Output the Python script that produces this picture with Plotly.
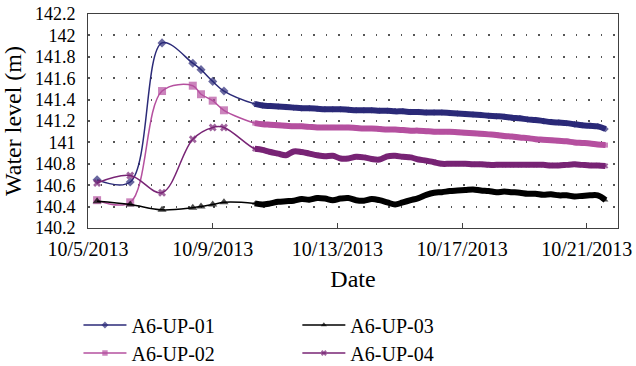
import pandas as pd
import plotly.graph_objects as go

# ---- data ----
early_times = ["2013-10-05 07:00", "2013-10-06 08:30", "2013-10-07 09:00",
               "2013-10-08 08:40", "2013-10-08 15:00", "2013-10-09 00:00",
               "2013-10-09 08:40"]
early_times_04 = ["2013-10-05 07:00", "2013-10-06 08:30", "2013-10-07 09:00",
                  "2013-10-08 08:40", "2013-10-09 00:00", "2013-10-09 08:40"]

early_01 = [140.65, 140.63, 141.93, 141.74, 141.68, 141.57, 141.48]
early_02 = [140.46, 140.44, 141.48, 141.53, 141.45, 141.39, 141.30]
early_03 = [140.45, 140.42, 140.37, 140.39, 140.40, 140.42, 140.44]
early_04 = [140.62, 140.69, 140.53, 141.03, 141.14, 141.14]

# regular logger readings every 6 hours
dense_times = pd.date_range("2013-10-10 08:24", periods=46, freq="6h")

dense_01 = [141.36, 141.345, 141.34, 141.335, 141.33, 141.325, 141.32, 141.32,
            141.315, 141.31, 141.31, 141.31, 141.305, 141.30, 141.30, 141.30,
            141.295, 141.295, 141.29, 141.29, 141.285, 141.285, 141.28, 141.28,
            141.28, 141.275, 141.27, 141.265, 141.26, 141.255, 141.25, 141.245,
            141.24, 141.23, 141.225, 141.215, 141.21, 141.20, 141.19, 141.185,
            141.18, 141.17, 141.16, 141.155, 141.15, 141.125]
dense_02 = [141.18, 141.17, 141.165, 141.16, 141.155, 141.15, 141.15, 141.145,
            141.14, 141.14, 141.14, 141.14, 141.14, 141.135, 141.13, 141.13,
            141.125, 141.12, 141.12, 141.115, 141.11, 141.11, 141.105, 141.10,
            141.10, 141.10, 141.095, 141.09, 141.085, 141.08, 141.075, 141.07,
            141.06, 141.055, 141.045, 141.04, 141.03, 141.025, 141.02, 141.015,
            141.01, 141.00, 140.995, 140.99, 140.98, 140.975]
dense_03 = [140.43, 140.42, 140.43, 140.445, 140.45, 140.455, 140.47, 140.465,
            140.48, 140.475, 140.46, 140.475, 140.48, 140.46, 140.455, 140.47,
            140.46, 140.44, 140.42, 140.44, 140.46, 140.48, 140.51, 140.53,
            140.535, 140.545, 140.55, 140.555, 140.56, 140.55, 140.545, 140.535,
            140.54, 140.535, 140.53, 140.52, 140.52, 140.51, 140.515, 140.505,
            140.505, 140.495, 140.50, 140.505, 140.505, 140.46]
dense_04 = [140.94, 140.93, 140.91, 140.895, 140.88, 140.915, 140.91, 140.895,
            140.88, 140.87, 140.875, 140.85, 140.85, 140.865, 140.86, 140.845,
            140.84, 140.87, 140.875, 140.865, 140.86, 140.84, 140.83, 140.815,
            140.80, 140.80, 140.80, 140.80, 140.795, 140.795, 140.79, 140.79,
            140.79, 140.79, 140.79, 140.79, 140.79, 140.79, 140.785, 140.785,
            140.79, 140.795, 140.79, 140.785, 140.785, 140.78]

series = [
    dict(name="A6-UP-01", et=early_times, ey=early_01, dy=dense_01,
         color="#2B2A78", symbol="diamond", size=7, legend="legend"),
    dict(name="A6-UP-02", et=early_times, ey=early_02, dy=dense_02,
         color="#B5509F", symbol="square", size=8, legend="legend2"),
    dict(name="A6-UP-03", et=early_times, ey=early_03, dy=dense_03,
         color="#000000", symbol="triangle-up", size=8, legend="legend3"),
    dict(name="A6-UP-04", et=early_times_04, ey=early_04, dy=dense_04,
         color="#782475", symbol="x", size=7, legend="legend4"),
]

FONT = "Liberation Serif"
fig = go.Figure()
dense_str = [t.strftime("%Y-%m-%d %H:%M") for t in dense_times]
for s in series:
    xs = list(s["et"]) + dense_str
    ys = list(s["ey"]) + list(s["dy"])
    sizes = [s["size"]] * len(s["et"]) + [5] * len(dense_str)
    # thick band for the densely logged section
    fig.add_trace(go.Scatter(
        x=dense_str, y=s["dy"], mode="lines",
        line=dict(color=s["color"], width=6, shape="spline"),
        showlegend=False, hoverinfo="skip", legend=s["legend"]))
    fig.add_trace(go.Scatter(
        x=xs, y=ys, name=s["name"], mode="lines+markers",
        line=dict(color=s["color"], width=1.5, shape="spline", smoothing=1),
        marker=dict(symbol=s["symbol"], size=sizes, color=s["color"],
                    line=dict(width=0, color=s["color"])),
        legend=s["legend"]))

leg_common = dict(xref="paper", yref="container", xanchor="left",
                  yanchor="middle", orientation="v",
                  bgcolor="rgba(0,0,0,0)", itemwidth=43,
                  font=dict(family=FONT, size=20, color="black"))
row1 = 1 - 325 / 366
row2 = 1 - 353 / 366
col1 = -0.018
col2 = 0.395

fig.update_layout(
    width=636, height=366,
    margin=dict(l=88, r=18, t=14, b=138),
    paper_bgcolor="white", plot_bgcolor="white",
    font=dict(family=FONT, size=20, color="black"),
    xaxis=dict(
        type="date", range=["2013-10-05", "2013-10-22"],
        tick0="2013-10-05", dtick=4 * 86400000, tickformat="%m/%-d/%Y",
        ticks="inside", ticklen=5, tickcolor="#404040",
        showgrid=False, zeroline=False, automargin=False,
        showline=True, linecolor="#404040", linewidth=1, mirror=True,
        tickfont=dict(size=20), ticklabelstandoff=3,
        title=dict(text="Date", standoff=11),
    ),
    yaxis=dict(
        range=[140.2, 142.2], dtick=0.2, tick0=140.2,
        ticks="", showgrid=True, gridcolor="#555555", gridwidth=1.5,
        griddash="1.5px,11px", zeroline=False, automargin=False,
        showline=True, linecolor="#404040", linewidth=1, mirror=True,
        ticklabelstandoff=8, tickfont=dict(size=18),
        title=dict(text="Water level (m)", standoff=6),
    ),
    legend=dict(x=col1, y=row1, **leg_common),
    legend2=dict(x=col1, y=row2, **leg_common),
    legend3=dict(x=col2, y=row1, **leg_common),
    legend4=dict(x=col2, y=row2, **leg_common),
    showlegend=True,
)

fig.write_html("out.html")
